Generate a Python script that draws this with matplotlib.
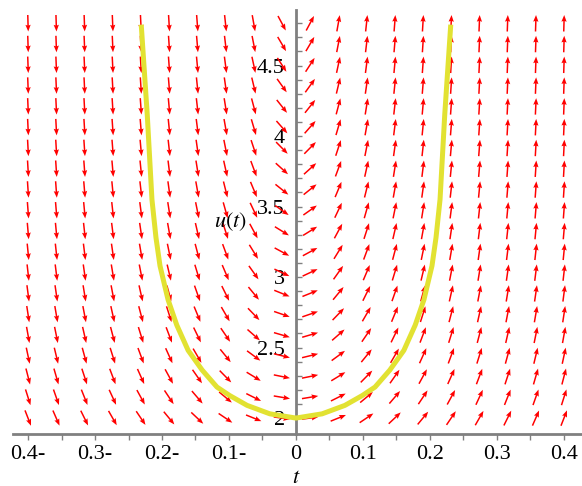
import numpy as np
import matplotlib
matplotlib.use("Agg")
import matplotlib.pyplot as plt

plt.rcParams['font.family'] = ['Liberation Serif', 'DejaVu Serif']
plt.rcParams['mathtext.fontset'] = 'stix'

# direction field: u' = k*t*u^3 on a 20x20 grid
k = 3.8
t_grid = np.linspace(-0.4, 0.4, 20)
u_grid = np.linspace(2.0, 4.8, 20)

# solution curve through u(0)=2
curve_t = [-0.231, -0.222, -0.215, -0.209, -0.203, -0.191, -0.178, -0.161, -0.140, -0.118,
           -0.099, -0.073, -0.039, 0.0, 0.039, 0.073, 0.099, 0.118, 0.140, 0.161,
           0.178, 0.191, 0.203, 0.209, 0.215, 0.222, 0.231]
curve_u = [4.79, 4.15, 3.55, 3.28, 3.08, 2.84, 2.66, 2.48, 2.34, 2.22,
           2.16, 2.09, 2.03, 2.00, 2.03, 2.09, 2.16, 2.22, 2.34, 2.48,
           2.66, 2.84, 3.08, 3.28, 3.55, 4.15, 4.79]

xticks = [-0.4, -0.3, -0.2, -0.1, 0, 0.1, 0.2, 0.3, 0.4]
xlabels = ['0.4-', '0.3-', '0.2-', '0.1-', '0', '0.1', '0.2', '0.3', '0.4']
yticks = [2, 2.5, 3, 3.5, 4, 4.5]
ylabels = ['2', '2.5', '3', '3.5', '4', '4.5']

W, H = 582, 486
fig = plt.figure(figsize=(W / 100, H / 100), dpi=100)
ax = fig.add_axes([13 / W, (H - 434) / H, (582 - 13) / W, (434 - 10) / H])
xlim = (-0.4224, 0.4269)
ylim = (1.887, 4.894)
ax.set_xlim(xlim)
ax.set_ylim(ylim)

# pixels per data unit, to keep arrows the same length on screen
px_t = (582 - 13) / (xlim[1] - xlim[0])
px_u = (434 - 10) / (ylim[1] - ylim[0])
T, U = np.meshgrid(t_grid, u_grid)
slope = k * T * U ** 3
dx = np.ones_like(slope) * px_t
dy = slope * px_u
norm = np.hypot(dx, dy)
L = 16.5
ax.quiver(T, U, L * dx / norm / px_t, L * dy / norm / px_u,
          angles='xy', scale_units='xy', scale=1, pivot='middle',
          color='red', units='dots', width=1.5,
          headwidth=3.5, headlength=4.5, headaxislength=4, zorder=2)

ax.plot(curve_t, curve_u, color='#e2e232', lw=3.6, solid_capstyle='butt', zorder=3)

for s in ['top', 'right']:
    ax.spines[s].set_visible(False)
ax.spines['left'].set_position(('data', 0))
for s in ['left', 'bottom']:
    ax.spines[s].set_color('#808080')
    ax.spines[s].set_linewidth(2)

ax.set_xticks(xticks)
ax.set_xticklabels(xlabels)
ax.set_xticks(np.arange(-0.4, 0.41, 0.05), minor=True)
ax.set_yticks(yticks)
ax.set_yticklabels(ylabels)
ax.set_yticks(np.arange(2.0, 4.85, 0.1), minor=True)
ax.tick_params(axis='x', which='both', direction='out', length=4, width=1,
               color='#808080', labelsize=16, pad=4)
ax.tick_params(axis='y', which='both', direction='in', length=4, width=1,
               color='#808080', labelsize=16, pad=8)
for lab in ax.get_yticklabels():
    lab.set_zorder(4)

ax.text(-0.0985, 3.39, '$u(t)$', fontsize=16, ha='center', va='center')
fig.text(296 / W, 1 - 478 / H, '$t$', fontsize=16, ha='center', va='center')

fig.savefig('out.png', dpi=100)
